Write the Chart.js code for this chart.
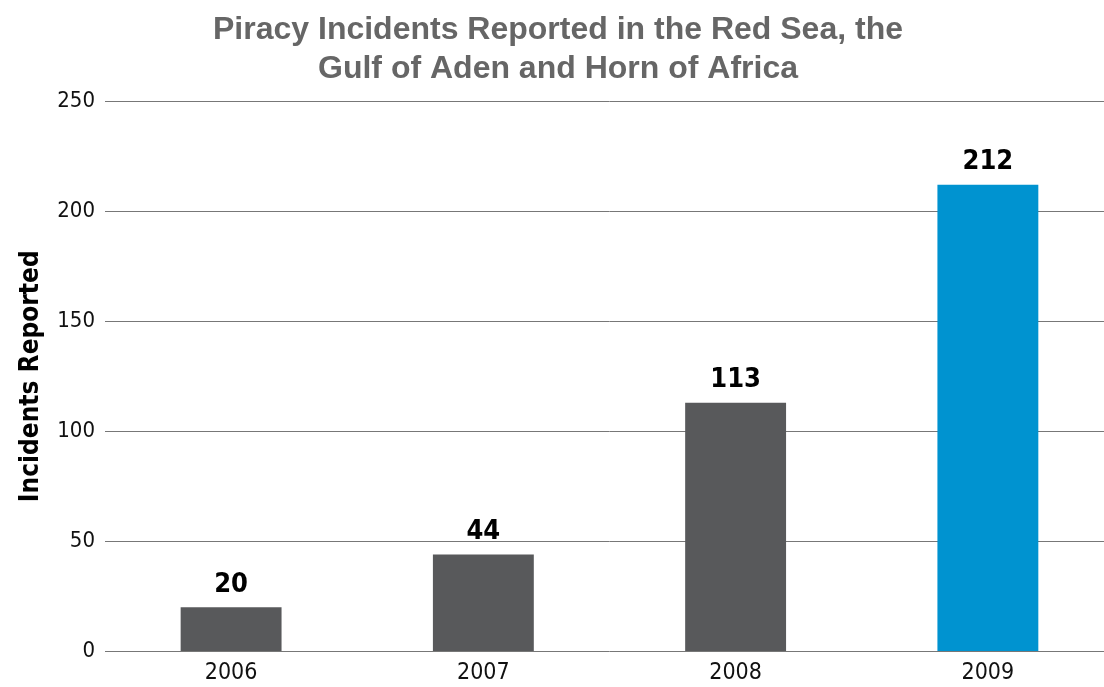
<!DOCTYPE html>
<html>
<head>
<meta charset="utf-8">
<script src="https://cdn.jsdelivr.net/npm/chart.js@4/dist/chart.umd.min.js"></script>
<style>
  html, body { margin: 0; padding: 0; background: #fff; overflow: hidden; }
  #wrap { width: 1114px; height: 687px; }
</style>
</head>
<body>
<div id="wrap"><canvas id="chart"></canvas></div>
<script>
const years = ['2006', '2007', '2008', '2009']
const incidents = [20, 44, 113, 212]
const barColors = ['#58595b', '#58595b', '#58595b', '#0093d0']
const yTicks = [0, 50, 100, 150, 200, 250]

const narrow = "'Liberation Sans Narrow', 'DejaVu Sans Condensed', 'Arial Narrow', sans-serif"

// value written above each bar
const barValues = {
    id: 'barValues',
    afterDatasetsDraw(chart) {
        const ctx = chart.ctx
        const meta = chart.getDatasetMeta(0)
        ctx.save()
        ctx.font = `bold 27px ${narrow}`
        ctx.fillStyle = '#000'
        ctx.textAlign = 'center'
        ctx.textBaseline = 'bottom'
        meta.data.forEach((bar, i) => {
            ctx.fillText(chart.data.datasets[0].data[i], bar.x, bar.y - 9)
        })
        ctx.restore()
    }
}

new Chart(document.getElementById('chart'), {
    type: 'bar',
    data: {
        labels: years,
        datasets: [{
            data: incidents,
            backgroundColor: barColors,
            barPercentage: 0.8,
            categoryPercentage: 0.5
        }]
    },
    options: {
        responsive: true,
        maintainAspectRatio: false,
        animation: false,
        layout: { padding: { top: 2, right: 0, left: 2, bottom: 0 } },
        plugins: {
            legend: { display: false },
            tooltip: { enabled: false },
            title: {
                display: true,
                text: ['Piracy Incidents Reported in the Red Sea, the', 'Gulf of Aden and Horn of Africa'],
                color: '#666',
                font: { family: "'Liberation Sans', Arial, sans-serif", size: 32, weight: 'bold', lineHeight: 1.22 },
                padding: { top: 9, bottom: 12 }
            }
        },
        scales: {
            x: {
                grid: { display: false },
                border: { display: false },
                ticks: { color: '#111', font: { family: narrow, size: 23 }, padding: 0 },
            },
            y: {
                min: 0,
                max: 250,
                afterBuildTicks: axis => { axis.ticks = yTicks.map(v => ({ value: v })) },
                grid: { color: '#777', lineWidth: 1, drawTicks: false },
                border: { display: false },
                ticks: { color: '#111', font: { family: narrow, size: 22 }, padding: 10 },
                title: {
                    display: true,
                    text: 'Incidents Reported',
                    color: '#000',
                    font: { family: narrow, size: 26, weight: 'bold' },
                    padding: { top: 14, bottom: 0 }
                }
            }
        }
    },
    plugins: [barValues]
})
</script>
</body>
</html>
